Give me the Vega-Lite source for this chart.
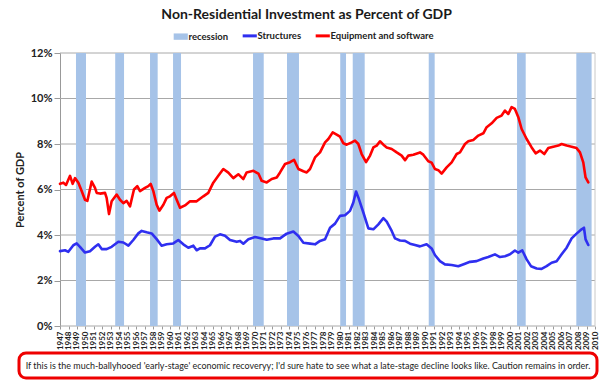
{
  "$schema": "https://vega.github.io/schema/vega-lite/v6.json",
  "padding": {"left": 14, "top": 8, "right": 4, "bottom": 2},
  "background": "white",
  "spacing": 1,
  "title": {"text": "Non-Residential Investment as Percent of GDP", "font": "Lato", "fontSize": 14, "fontWeight": "bold", "color": "#1a1a1a", "anchor": "middle", "offset": 9},
  "config": {"font": "Lato", "axisX": {"labelOverlap": false}, "axis": {"labelOverlap": false}},
  "datasets": {
    "grid": [{"v": 0}, {"v": 2}, {"v": 4}, {"v": 6}, {"v": 8}, {"v": 10}, {"v": 12}],
    "recessions": [
      {"start": 1948.88, "end": 1950.06},
      {"start": 1953.5, "end": 1954.54},
      {"start": 1957.6, "end": 1958.5},
      {"start": 1960.31, "end": 1961.25},
      {"start": 1969.73, "end": 1970.99},
      {"start": 1973.73, "end": 1975.14},
      {"start": 1980.0, "end": 1980.68},
      {"start": 1981.47, "end": 1982.88},
      {"start": 1990.42, "end": 1991.12},
      {"start": 2000.82, "end": 2001.84},
      {"start": 2007.8, "end": 2009.6}
    ],
    "series": [
      {"series": "Structures", "year": 1947.0, "value": 3.29},
      {"series": "Structures", "year": 1947.59, "value": 3.33},
      {"series": "Structures", "year": 1947.98, "value": 3.26},
      {"series": "Structures", "year": 1948.57, "value": 3.55},
      {"series": "Structures", "year": 1948.96, "value": 3.63},
      {"series": "Structures", "year": 1949.35, "value": 3.48},
      {"series": "Structures", "year": 1949.94, "value": 3.23},
      {"series": "Structures", "year": 1950.53, "value": 3.29},
      {"series": "Structures", "year": 1951.12, "value": 3.48},
      {"series": "Structures", "year": 1951.51, "value": 3.59},
      {"series": "Structures", "year": 1951.91, "value": 3.38},
      {"series": "Structures", "year": 1952.49, "value": 3.38},
      {"series": "Structures", "year": 1953.08, "value": 3.48},
      {"series": "Structures", "year": 1953.87, "value": 3.7},
      {"series": "Structures", "year": 1954.46, "value": 3.67},
      {"series": "Structures", "year": 1955.05, "value": 3.53},
      {"series": "Structures", "year": 1955.63, "value": 3.78},
      {"series": "Structures", "year": 1956.22, "value": 4.07},
      {"series": "Structures", "year": 1956.62, "value": 4.18},
      {"series": "Structures", "year": 1957.2, "value": 4.12},
      {"series": "Structures", "year": 1957.79, "value": 4.07},
      {"series": "Structures", "year": 1958.38, "value": 3.82},
      {"series": "Structures", "year": 1958.97, "value": 3.53},
      {"series": "Structures", "year": 1959.56, "value": 3.59},
      {"series": "Structures", "year": 1960.34, "value": 3.63},
      {"series": "Structures", "year": 1960.93, "value": 3.78},
      {"series": "Structures", "year": 1961.52, "value": 3.59},
      {"series": "Structures", "year": 1962.11, "value": 3.44},
      {"series": "Structures", "year": 1962.7, "value": 3.53},
      {"series": "Structures", "year": 1963.09, "value": 3.33},
      {"series": "Structures", "year": 1963.48, "value": 3.41},
      {"series": "Structures", "year": 1964.07, "value": 3.41},
      {"series": "Structures", "year": 1964.66, "value": 3.55},
      {"series": "Structures", "year": 1965.25, "value": 3.93},
      {"series": "Structures", "year": 1965.84, "value": 4.03},
      {"series": "Structures", "year": 1966.43, "value": 3.97},
      {"series": "Structures", "year": 1967.02, "value": 3.78},
      {"series": "Structures", "year": 1967.8, "value": 3.7},
      {"series": "Structures", "year": 1968.2, "value": 3.74},
      {"series": "Structures", "year": 1968.59, "value": 3.62},
      {"series": "Structures", "year": 1969.18, "value": 3.81},
      {"series": "Structures", "year": 1969.97, "value": 3.91},
      {"series": "Structures", "year": 1970.75, "value": 3.85},
      {"series": "Structures", "year": 1971.34, "value": 3.79},
      {"series": "Structures", "year": 1972.12, "value": 3.85},
      {"series": "Structures", "year": 1972.91, "value": 3.85},
      {"series": "Structures", "year": 1973.69, "value": 4.06},
      {"series": "Structures", "year": 1974.48, "value": 4.15},
      {"series": "Structures", "year": 1975.07, "value": 3.96},
      {"series": "Structures", "year": 1975.66, "value": 3.66},
      {"series": "Structures", "year": 1976.44, "value": 3.62},
      {"series": "Structures", "year": 1977.03, "value": 3.59},
      {"series": "Structures", "year": 1977.62, "value": 3.74},
      {"series": "Structures", "year": 1978.21, "value": 3.81},
      {"series": "Structures", "year": 1978.8, "value": 4.32},
      {"series": "Structures", "year": 1979.39, "value": 4.5},
      {"series": "Structures", "year": 1979.97, "value": 4.84},
      {"series": "Structures", "year": 1980.56, "value": 4.87},
      {"series": "Structures", "year": 1981.15, "value": 5.06},
      {"series": "Structures", "year": 1981.54, "value": 5.43},
      {"series": "Structures", "year": 1981.86, "value": 5.91},
      {"series": "Structures", "year": 1982.13, "value": 5.65},
      {"series": "Structures", "year": 1982.72, "value": 4.99},
      {"series": "Structures", "year": 1983.31, "value": 4.29},
      {"series": "Structures", "year": 1983.9, "value": 4.25},
      {"series": "Structures", "year": 1984.49, "value": 4.47},
      {"series": "Structures", "year": 1985.08, "value": 4.74},
      {"series": "Structures", "year": 1985.47, "value": 4.59},
      {"series": "Structures", "year": 1986.06, "value": 4.18},
      {"series": "Structures", "year": 1986.45, "value": 3.85},
      {"series": "Structures", "year": 1987.04, "value": 3.76},
      {"series": "Structures", "year": 1987.63, "value": 3.74},
      {"series": "Structures", "year": 1988.22, "value": 3.62},
      {"series": "Structures", "year": 1988.8, "value": 3.56},
      {"series": "Structures", "year": 1989.39, "value": 3.5},
      {"series": "Structures", "year": 1990.17, "value": 3.59},
      {"series": "Structures", "year": 1990.76, "value": 3.41},
      {"series": "Structures", "year": 1991.15, "value": 3.12},
      {"series": "Structures", "year": 1991.74, "value": 2.85},
      {"series": "Structures", "year": 1992.33, "value": 2.71},
      {"series": "Structures", "year": 1993.12, "value": 2.68},
      {"series": "Structures", "year": 1993.9, "value": 2.63},
      {"series": "Structures", "year": 1994.69, "value": 2.74},
      {"series": "Structures", "year": 1995.28, "value": 2.82},
      {"series": "Structures", "year": 1996.06, "value": 2.85},
      {"series": "Structures", "year": 1996.85, "value": 2.97},
      {"series": "Structures", "year": 1997.43, "value": 3.03},
      {"series": "Structures", "year": 1998.22, "value": 3.15},
      {"series": "Structures", "year": 1998.81, "value": 3.03},
      {"series": "Structures", "year": 1999.4, "value": 3.07},
      {"series": "Structures", "year": 1999.99, "value": 3.15},
      {"series": "Structures", "year": 2000.57, "value": 3.32},
      {"series": "Structures", "year": 2000.97, "value": 3.22},
      {"series": "Structures", "year": 2001.44, "value": 3.32},
      {"series": "Structures", "year": 2001.95, "value": 2.93},
      {"series": "Structures", "year": 2002.46, "value": 2.63},
      {"series": "Structures", "year": 2003.13, "value": 2.53},
      {"series": "Structures", "year": 2003.71, "value": 2.51},
      {"series": "Structures", "year": 2004.3, "value": 2.63},
      {"series": "Structures", "year": 2004.89, "value": 2.78},
      {"series": "Structures", "year": 2005.48, "value": 2.85},
      {"series": "Structures", "year": 2006.07, "value": 3.15},
      {"series": "Structures", "year": 2006.66, "value": 3.44},
      {"series": "Structures", "year": 2007.25, "value": 3.85},
      {"series": "Structures", "year": 2007.83, "value": 4.06},
      {"series": "Structures", "year": 2008.42, "value": 4.25},
      {"series": "Structures", "year": 2008.7, "value": 4.32},
      {"series": "Structures", "year": 2008.89, "value": 3.81},
      {"series": "Structures", "year": 2009.21, "value": 3.56},
      {"series": "Equipment and software", "year": 1947.0, "value": 6.25},
      {"series": "Equipment and software", "year": 1947.39, "value": 6.3},
      {"series": "Equipment and software", "year": 1947.71, "value": 6.2},
      {"series": "Equipment and software", "year": 1948.18, "value": 6.6},
      {"series": "Equipment and software", "year": 1948.49, "value": 6.25},
      {"series": "Equipment and software", "year": 1948.77, "value": 6.5},
      {"series": "Equipment and software", "year": 1949.16, "value": 6.3},
      {"series": "Equipment and software", "year": 1949.55, "value": 5.93},
      {"series": "Equipment and software", "year": 1949.94, "value": 5.55},
      {"series": "Equipment and software", "year": 1950.22, "value": 5.5},
      {"series": "Equipment and software", "year": 1950.73, "value": 6.35},
      {"series": "Equipment and software", "year": 1951.12, "value": 6.07},
      {"series": "Equipment and software", "year": 1951.32, "value": 5.85},
      {"series": "Equipment and software", "year": 1951.71, "value": 5.82},
      {"series": "Equipment and software", "year": 1952.3, "value": 5.85},
      {"series": "Equipment and software", "year": 1952.49, "value": 5.63},
      {"series": "Equipment and software", "year": 1952.77, "value": 4.92},
      {"series": "Equipment and software", "year": 1953.08, "value": 5.48},
      {"series": "Equipment and software", "year": 1953.67, "value": 5.78},
      {"series": "Equipment and software", "year": 1954.06, "value": 5.55},
      {"series": "Equipment and software", "year": 1954.46, "value": 5.4},
      {"series": "Equipment and software", "year": 1954.85, "value": 5.5},
      {"series": "Equipment and software", "year": 1955.24, "value": 5.26},
      {"series": "Equipment and software", "year": 1955.71, "value": 6.0},
      {"series": "Equipment and software", "year": 1956.1, "value": 6.15},
      {"series": "Equipment and software", "year": 1956.42, "value": 5.93},
      {"series": "Equipment and software", "year": 1957.01, "value": 6.07},
      {"series": "Equipment and software", "year": 1957.4, "value": 6.15},
      {"series": "Equipment and software", "year": 1957.67, "value": 6.25},
      {"series": "Equipment and software", "year": 1957.99, "value": 5.93},
      {"series": "Equipment and software", "year": 1958.38, "value": 5.33},
      {"series": "Equipment and software", "year": 1958.7, "value": 5.07},
      {"series": "Equipment and software", "year": 1959.17, "value": 5.33},
      {"series": "Equipment and software", "year": 1959.56, "value": 5.63},
      {"series": "Equipment and software", "year": 1959.95, "value": 5.7},
      {"series": "Equipment and software", "year": 1960.42, "value": 5.85},
      {"series": "Equipment and software", "year": 1960.74, "value": 5.55},
      {"series": "Equipment and software", "year": 1961.13, "value": 5.2},
      {"series": "Equipment and software", "year": 1961.72, "value": 5.3},
      {"series": "Equipment and software", "year": 1962.31, "value": 5.48},
      {"series": "Equipment and software", "year": 1963.09, "value": 5.48},
      {"series": "Equipment and software", "year": 1963.88, "value": 5.7},
      {"series": "Equipment and software", "year": 1964.46, "value": 5.85},
      {"series": "Equipment and software", "year": 1965.05, "value": 6.3},
      {"series": "Equipment and software", "year": 1965.64, "value": 6.6},
      {"series": "Equipment and software", "year": 1966.23, "value": 6.9},
      {"series": "Equipment and software", "year": 1966.82, "value": 6.74},
      {"series": "Equipment and software", "year": 1967.41, "value": 6.5},
      {"series": "Equipment and software", "year": 1968.0, "value": 6.67},
      {"series": "Equipment and software", "year": 1968.2, "value": 6.6},
      {"series": "Equipment and software", "year": 1968.59, "value": 6.46},
      {"series": "Equipment and software", "year": 1968.98, "value": 6.75},
      {"series": "Equipment and software", "year": 1969.77, "value": 6.82},
      {"series": "Equipment and software", "year": 1970.36, "value": 6.7},
      {"series": "Equipment and software", "year": 1970.75, "value": 6.38},
      {"series": "Equipment and software", "year": 1971.34, "value": 6.31},
      {"series": "Equipment and software", "year": 1971.93, "value": 6.46},
      {"series": "Equipment and software", "year": 1972.52, "value": 6.53},
      {"series": "Equipment and software", "year": 1972.91, "value": 6.75},
      {"series": "Equipment and software", "year": 1973.5, "value": 7.12},
      {"series": "Equipment and software", "year": 1974.09, "value": 7.2},
      {"series": "Equipment and software", "year": 1974.56, "value": 7.3},
      {"series": "Equipment and software", "year": 1975.07, "value": 6.9},
      {"series": "Equipment and software", "year": 1975.66, "value": 6.8},
      {"series": "Equipment and software", "year": 1976.05, "value": 6.75},
      {"series": "Equipment and software", "year": 1976.44, "value": 6.9},
      {"series": "Equipment and software", "year": 1977.03, "value": 7.41},
      {"series": "Equipment and software", "year": 1977.62, "value": 7.63},
      {"series": "Equipment and software", "year": 1978.21, "value": 8.07},
      {"series": "Equipment and software", "year": 1978.6, "value": 8.22},
      {"series": "Equipment and software", "year": 1979.11, "value": 8.51},
      {"series": "Equipment and software", "year": 1979.58, "value": 8.41},
      {"series": "Equipment and software", "year": 1979.97, "value": 8.32},
      {"series": "Equipment and software", "year": 1980.37, "value": 8.03},
      {"series": "Equipment and software", "year": 1980.76, "value": 7.97},
      {"series": "Equipment and software", "year": 1981.35, "value": 8.07},
      {"series": "Equipment and software", "year": 1981.74, "value": 8.15},
      {"series": "Equipment and software", "year": 1982.13, "value": 8.0},
      {"series": "Equipment and software", "year": 1982.52, "value": 7.56},
      {"series": "Equipment and software", "year": 1983.04, "value": 7.2},
      {"series": "Equipment and software", "year": 1983.51, "value": 7.49},
      {"series": "Equipment and software", "year": 1983.9, "value": 7.85},
      {"series": "Equipment and software", "year": 1984.29, "value": 7.93},
      {"series": "Equipment and software", "year": 1984.68, "value": 8.12},
      {"series": "Equipment and software", "year": 1985.08, "value": 7.97},
      {"series": "Equipment and software", "year": 1985.47, "value": 7.85},
      {"series": "Equipment and software", "year": 1986.06, "value": 7.78},
      {"series": "Equipment and software", "year": 1986.65, "value": 7.63},
      {"series": "Equipment and software", "year": 1987.23, "value": 7.49},
      {"series": "Equipment and software", "year": 1987.63, "value": 7.29},
      {"series": "Equipment and software", "year": 1988.02, "value": 7.49},
      {"series": "Equipment and software", "year": 1988.61, "value": 7.53},
      {"series": "Equipment and software", "year": 1989.39, "value": 7.63},
      {"series": "Equipment and software", "year": 1989.78, "value": 7.53},
      {"series": "Equipment and software", "year": 1990.37, "value": 7.24},
      {"series": "Equipment and software", "year": 1990.76, "value": 7.18},
      {"series": "Equipment and software", "year": 1991.15, "value": 6.9},
      {"series": "Equipment and software", "year": 1991.55, "value": 6.85},
      {"series": "Equipment and software", "year": 1991.94, "value": 6.7},
      {"series": "Equipment and software", "year": 1992.53, "value": 6.97},
      {"series": "Equipment and software", "year": 1993.12, "value": 7.19},
      {"series": "Equipment and software", "year": 1993.71, "value": 7.56},
      {"series": "Equipment and software", "year": 1994.1, "value": 7.63},
      {"series": "Equipment and software", "year": 1994.69, "value": 8.0},
      {"series": "Equipment and software", "year": 1995.08, "value": 8.12},
      {"series": "Equipment and software", "year": 1995.67, "value": 8.18},
      {"series": "Equipment and software", "year": 1996.26, "value": 8.37},
      {"series": "Equipment and software", "year": 1996.85, "value": 8.47},
      {"series": "Equipment and software", "year": 1997.24, "value": 8.74},
      {"series": "Equipment and software", "year": 1997.83, "value": 8.91},
      {"series": "Equipment and software", "year": 1998.42, "value": 9.15},
      {"series": "Equipment and software", "year": 1999.0, "value": 9.25},
      {"series": "Equipment and software", "year": 1999.4, "value": 9.47},
      {"series": "Equipment and software", "year": 1999.79, "value": 9.32},
      {"series": "Equipment and software", "year": 2000.18, "value": 9.62},
      {"series": "Equipment and software", "year": 2000.57, "value": 9.54},
      {"series": "Equipment and software", "year": 2000.97, "value": 9.18},
      {"series": "Equipment and software", "year": 2001.36, "value": 8.66},
      {"series": "Equipment and software", "year": 2001.95, "value": 8.22},
      {"series": "Equipment and software", "year": 2002.54, "value": 7.85},
      {"series": "Equipment and software", "year": 2003.01, "value": 7.59},
      {"series": "Equipment and software", "year": 2003.52, "value": 7.71},
      {"series": "Equipment and software", "year": 2004.03, "value": 7.56},
      {"series": "Equipment and software", "year": 2004.5, "value": 7.82},
      {"series": "Equipment and software", "year": 2005.09, "value": 7.88},
      {"series": "Equipment and software", "year": 2005.68, "value": 7.93},
      {"series": "Equipment and software", "year": 2006.07, "value": 8.0},
      {"series": "Equipment and software", "year": 2006.66, "value": 7.93},
      {"series": "Equipment and software", "year": 2007.25, "value": 7.88},
      {"series": "Equipment and software", "year": 2007.83, "value": 7.82},
      {"series": "Equipment and software", "year": 2008.23, "value": 7.63},
      {"series": "Equipment and software", "year": 2008.62, "value": 7.19},
      {"series": "Equipment and software", "year": 2008.89, "value": 6.53},
      {"series": "Equipment and software", "year": 2009.21, "value": 6.31}
    ]
  },
  "vconcat": [
    {
      "width": 576,
      "height": 273,
      "view": {"stroke": null},
      "encoding": {
        "x": {
          "type": "quantitative",
          "scale": {"domain": [1942.17, 2010], "nice": false, "zero": false},
          "axis": {
            "title": null,
            "values": [1947,1948,1949,1950,1951,1952,1953,1954,1955,1956,1957,1958,1959,1960,1961,1962,1963,1964,1965,1966,1967,1968,1969,1970,1971,1972,1973,1974,1975,1976,1977,1978,1979,1980,1981,1982,1983,1984,1985,1986,1987,1988,1989,1990,1991,1992,1993,1994,1995,1996,1997,1998,1999,2000,2001,2002,2003,2004,2005,2006,2007,2008,2009,2010],
            "format": "d",
            "labelAngle": 270,
            "labelAlign": "right",
            "labelBaseline": "middle",
            "labelFontSize": 8,
            "labelFontWeight": "bold",
            "labelColor": "#222",
            "labelPadding": 2,
            "labelOverlap": false,
            "labelFlush": false,
            "labelBound": false,
            "tickSize": 3,
            "tickColor": "#999",
            "domain": false,
            "grid": false
          }
        },
        "y": {
          "type": "quantitative",
          "scale": {"domain": [0, 12], "nice": false},
          "axis": {
            "title": "Percent of GDP",
            "titleFontSize": 11,
            "titleFontWeight": "bold",
            "titleColor": "#222",
            "titlePadding": 5,
            "offset": -41,
            "values": [0, 2, 4, 6, 8, 10, 12],
            "labelExpr": "datum.value + '%'",
            "labelFontSize": 11,
            "labelFontWeight": "bold",
            "labelColor": "#222",
            "labelPadding": 2,
            "tickSize": 6,
            "tickColor": "#999",
            "domainColor": "#999",
            "grid": false
          }
        }
      },
      "layer": [
        {
          "data": {"name": "grid"},
          "mark": {"type": "rule", "color": "#a8a8a8", "strokeWidth": 1},
          "encoding": {
            "x": {"datum": 1947, "type": "quantitative"},
            "x2": {"datum": 2010},
            "y": {"field": "v", "type": "quantitative"}
          }
        },
        {
          "data": {"name": "recessions"},
          "mark": {"type": "rect", "color": "#a6c3e8"},
          "encoding": {
            "x": {"field": "start", "type": "quantitative"},
            "x2": {"field": "end"},
            "y": {"datum": 12, "type": "quantitative"},
            "y2": {"datum": 0},
            "color": {"datum": "recession", "type": "nominal"}
          }
        },
        {
          "data": {"values": [{"edge": 2010}]},
          "mark": {"type": "rule", "color": "#c8c8c8", "strokeWidth": 1},
          "encoding": {
            "x": {"field": "edge", "type": "quantitative"},
            "y": {"datum": 0, "type": "quantitative"},
            "y2": {"datum": 12}
          }
        },
        {
          "data": {"name": "series"},
          "mark": {"type": "line", "strokeWidth": 2.6, "strokeJoin": "round", "strokeCap": "round"},
          "encoding": {
            "x": {"field": "year", "type": "quantitative"},
            "y": {"field": "value", "type": "quantitative"},
            "color": {
              "field": "series", "type": "nominal",
              "scale": {"domain": ["recession", "Structures", "Equipment and software"], "range": ["#a6c3e8", "#2f2ff0", "#ff0000"]},
              "legend": {
                "title": null,
                "orient": "none",
                "direction": "horizontal",
                "legendX": 157,
                "legendY": -22,
                "labelFontSize": 9.5,
                "labelFontWeight": "bold",
                "labelColor": "#222",
                "symbolSize": 200,
                "labelOffset": 3,
                "columnPadding": 7,
                "encode": {
                  "symbols": {
                    "update": {
                      "shape": {"signal": "datum.value === 'recession' ? 'M-1,-0.45H1V0.45H-1Z' : 'stroke'"},
                      "fill": {"signal": "datum.value === 'recession' ? '#a6c3e8' : 'transparent'"},
                      "stroke": {"signal": "datum.value === 'recession' ? '#a6c3e8' : (datum.value === 'Structures' ? '#2f2ff0' : '#ff0000')"},
                      "strokeWidth": {"signal": "datum.value === 'recession' ? 0 : 3"},
                      "opacity": {"value": 1}
                    }
                  }
                }
              }
            }
          }
        }
      ]
    },
    {
      "width": 578,
      "height": 25,
      "view": {"stroke": "#ee0000", "strokeWidth": 3, "cornerRadius": 7, "fill": "white"},
      "data": {"values": [{"note": "If this is the much-ballyhooed 'early-stage' economic recoveryy; I'd sure hate to see what a late-stage decline looks like. Caution remains in order."}]},
      "mark": {"type": "text", "font": "Lato", "fontSize": 8.95, "color": "#222", "align": "center", "baseline": "middle"},
      "encoding": {"text": {"field": "note"}}
    }
  ]
}
